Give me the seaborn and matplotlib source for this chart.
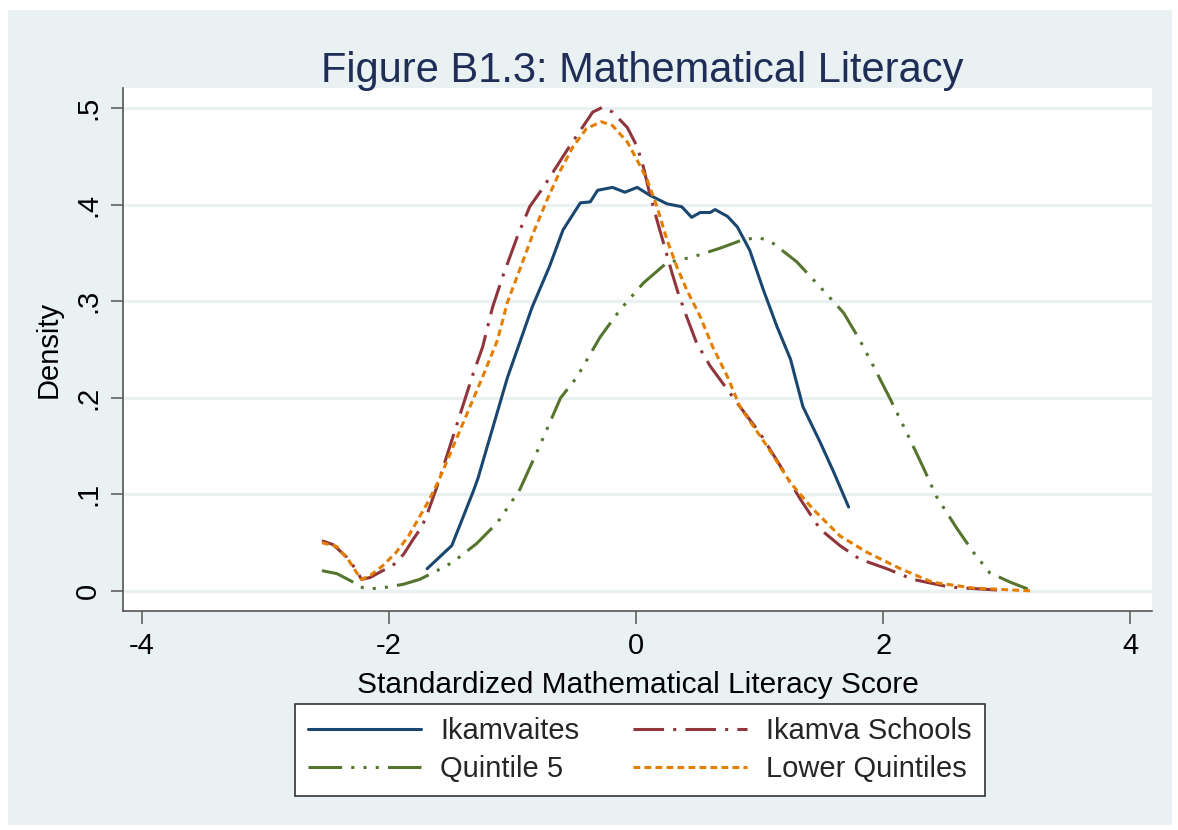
import matplotlib
matplotlib.use("Agg")
import matplotlib.pyplot as plt
from matplotlib.patches import Rectangle
import seaborn as sns
import pandas as pd

# ---- data ----
ikamvaites_x = [-1.69, -1.49, -1.32, -1.28, -1.04, -0.84, -0.70, -0.59, -0.45, -0.37, -0.31,
                -0.19, -0.09, 0.01, 0.11, 0.25, 0.37, 0.45, 0.52, 0.60, 0.64, 0.74, 0.82,
                0.92, 1.03, 1.14, 1.25, 1.35, 1.49, 1.60, 1.72]
ikamvaites_y = [0.023, 0.047, 0.102, 0.116, 0.221, 0.294, 0.336, 0.374, 0.402, 0.403, 0.415,
                0.418, 0.413, 0.418, 0.410, 0.401, 0.398, 0.387, 0.392, 0.392, 0.395, 0.388, 0.377,
                0.353, 0.312, 0.274, 0.240, 0.191, 0.154, 0.123, 0.087]

schools_x = [-2.54, -2.45, -2.34, -2.27, -2.22, -2.15, -2.05, -1.97, -1.88, -1.80, -1.73,
             -1.68, -1.61, -1.32, -1.24, -1.16, -1.08, -0.96, -0.86, -0.75, -0.61, -0.53,
             -0.45, -0.35, -0.27, -0.19, -0.07, 0.01, 0.06, 0.11, 0.17, 0.23, 0.29, 0.34,
             0.41, 0.49, 0.60, 0.68, 0.84, 1.00, 1.17, 1.33, 1.49, 1.65, 1.81, 2.03, 2.24,
             2.54, 2.92]
schools_y = [0.052, 0.048, 0.035, 0.023, 0.012, 0.014, 0.021, 0.026, 0.038, 0.054, 0.067,
             0.083, 0.108, 0.224, 0.253, 0.294, 0.325, 0.367, 0.398, 0.418, 0.446, 0.462,
             0.477, 0.496, 0.501, 0.496, 0.480, 0.460, 0.439, 0.412, 0.384, 0.357, 0.330, 0.309,
             0.284, 0.257, 0.233, 0.219, 0.191, 0.164, 0.129, 0.095, 0.064, 0.047, 0.033, 0.023, 0.012,
             0.004, 0.001]

q5_x = [-2.54, -2.42, -2.30, -2.25, -2.17, -2.01, -1.88, -1.75, -1.61, -1.48, -1.29, -1.12,
        -0.94, -0.78, -0.61, -0.48, -0.29, -0.13, 0.06, 0.25, 0.46, 0.68, 0.87, 1.00, 1.11,
        1.30, 1.51, 1.68, 1.81, 1.92, 2.06, 2.19, 2.32, 2.43, 2.60, 2.73, 2.86, 3.03, 3.17]
q5_y = [0.021, 0.018, 0.010, 0.005, 0.002, 0.004, 0.007, 0.012, 0.021, 0.030, 0.049, 0.071,
        0.105, 0.150, 0.200, 0.221, 0.263, 0.291, 0.319, 0.340, 0.346, 0.355, 0.364, 0.366, 0.360,
        0.341, 0.312, 0.288, 0.260, 0.233, 0.198, 0.164, 0.129, 0.098, 0.064, 0.040, 0.019, 0.009, 0.002]

lower_x = [-2.54, -2.42, -2.33, -2.26, -2.22, -2.15, -2.05, -1.94, -1.84, -1.75, -1.67, -1.59,
           -1.24, -1.12, -1.04, -0.94, -0.83, -0.72, -0.61, -0.51, -0.40, -0.28, -0.19, -0.07,
           0.01, 0.09, 0.17, 0.25, 0.33, 0.41, 0.52, 0.62, 0.74, 0.84, 1.06, 1.25, 1.43, 1.65,
           1.87, 2.14, 2.40, 2.73, 3.21]
lower_y = [0.050, 0.046, 0.033, 0.019, 0.012, 0.016, 0.026, 0.040, 0.057, 0.077, 0.095, 0.116,
           0.222, 0.260, 0.299, 0.333, 0.371, 0.405, 0.436, 0.460, 0.479, 0.486, 0.482, 0.465,
           0.446, 0.426, 0.398, 0.364, 0.336, 0.312, 0.284, 0.253, 0.222, 0.191, 0.150, 0.112, 0.085, 0.057,
           0.040, 0.023, 0.009, 0.003, 0.0]

labels = ["Ikamvaites", "Ikamva Schools", "Quintile 5", "Lower Quintiles"]
x_ticks = [-4, -2, 0, 2, 4]
y_ticks = [0, 0.1, 0.2, 0.3, 0.4, 0.5]
y_ticklabels = ["0", ".1", ".2", ".3", ".4", ".5"]

# ---- styling ----
sns.set_theme(style="white")
plt.rcParams["font.family"] = ["Liberation Sans", "DejaVu Sans"]

bg = "#EAF1F3"
fig = plt.figure(figsize=(11.78, 8.30), dpi=100, facecolor="white")
fig.patches.append(Rectangle((0.007, 0.006), 0.988, 0.982, transform=fig.transFigure,
                             facecolor=bg, edgecolor="none", zorder=-10))
ax = fig.add_axes([0.1044, 0.2639, 0.8736, 0.6298])
ax.set_facecolor("white")

series = [
    (ikamvaites_x, ikamvaites_y, "#1A476F", None),
    (schools_x, schools_y, "#90353B", (10, 3, 1, 3)),
    (q5_x, q5_y, "#55752F", (11, 3, 1, 3, 1, 3, 1, 3)),
    (lower_x, lower_y, "#E37E00", (2.2, 1.4)),
]

for (xs, ys, col, dash), lab in zip(series, labels):
    df = pd.DataFrame({"x": xs, "y": ys})
    kw = dict(color=col, linewidth=2.2, label=lab)
    if dash is not None:
        kw["dashes"] = dash
    sns.lineplot(data=df, x="x", y="y", ax=ax, estimator=None, sort=False, **kw)

ax.set_xlim(-4.15, 4.175)
ax.set_ylim(-0.0207, 0.5207)
ax.set_xticks(x_ticks)
ax.set_xticklabels([str(t) if t >= 0 else "-" + str(abs(t)) for t in x_ticks])
ax.set_yticks(y_ticks)
ax.set_yticklabels(y_ticklabels, rotation=90, va="center")

ax.yaxis.grid(True, color=bg, linewidth=2.4)
ax.xaxis.grid(False)
ax.set_axisbelow(True)

for s in ["top", "right"]:
    ax.spines[s].set_visible(False)
for s in ["left", "bottom"]:
    ax.spines[s].set_color("#555555")
    ax.spines[s].set_linewidth(1.2)

ax.tick_params(axis="both", which="major", direction="out", length=9, width=1.1,
               color="#555555", labelsize=21, labelcolor="black", pad=6, left=True, bottom=True)

ax.set_xlabel("Standardized Mathematical Literacy Score", fontsize=21.5, color="black", labelpad=8)
ax.set_ylabel("Density", fontsize=21, color="black", labelpad=8)

fig.text(0.545, 0.914, "Figure B1.3: Mathematical Literacy", ha="center", va="center",
         fontsize=30, color="#1F2E57")

h, l = ax.get_legend_handles_labels()
order = [0, 2, 1, 3]
leg = ax.legend([h[i] for i in order], [l[i] for i in order],
                loc="center", bbox_to_anchor=(0.543, 0.0964), bbox_transform=fig.transFigure,
                ncol=2, fontsize=21, frameon=True, fancybox=False, edgecolor="#333333",
                handlelength=3.9, handletextpad=0.65, columnspacing=1.85, borderpad=0.45,
                labelspacing=0.33, borderaxespad=0)
leg.get_frame().set_linewidth(1.2)
leg.get_frame().set_facecolor("white")
leg.get_frame().set_alpha(1)

fig.savefig("out.png", dpi=100, facecolor="white")
